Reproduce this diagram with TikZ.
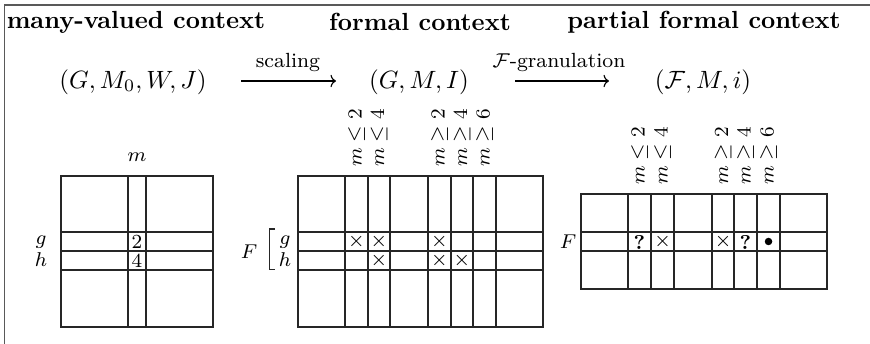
\documentclass[tikz,border=0pt]{standalone}
\usetikzlibrary{arrows.meta}
\begin{document}
\begin{tikzpicture}[x=0.4pt,y=-0.4pt,
  tbl/.style={line width=0.45pt, draw=black!85},
  frame/.style={line width=0.5pt, draw=black!65},
  txt/.style={inner sep=0pt, outer sep=0pt},
  head/.style={txt, font=\fontsize{9.9}{12}\bfseries\selectfont},
  formula/.style={txt, font=\fontsize{10.3}{12}\selectfont},
  arrlabel/.style={txt, font=\fontsize{8.2}{10}\selectfont},
  mapto/.style={line width=0.45pt, -{Computer Modern Rightarrow[length=2.2pt,width=5pt]}},
  collab/.style={txt, rotate=90, anchor=west, font=\fontsize{8.4}{10}\selectfont},
  cell/.style={txt, font=\fontsize{8}{10}\selectfont},
  rowlab/.style={txt, font=\fontsize{8.2}{10}\selectfont}
]
\useasboundingbox (0,0) rectangle (870,344);
\draw[frame] (870,5) -- (4.5,5) -- (4.5,344);

% headings
\node[head] (h1) at (136,22) {many-valued context};
\node[head] (h2) at (420,22) {formal context};
\node[head] (h3) at (704,22) {partial formal context};

% formulas and arrows
\node[formula] (f1) at (133,82) {$(G,M_0,W,J)$};
\node[formula] (f2) at (419,82) {$(G,M,I)$};
\node[formula] (f3) at (703,82) {$(\mathcal{F},M,i)$};
\coordinate (a1s) at (241,81);
\coordinate (a1e) at (336,81);
\coordinate (a2s) at (515,81);
\coordinate (a2e) at (609,81);
\draw[mapto] (a1s) -- (a1e);
\draw[mapto] (a2s) -- (a2e);
\node[arrlabel] (l1) at (288,62) {scaling};
\node[arrlabel] (l2) at (559,62) {$\mathcal{F}$-granulation};

% left table
\draw[tbl] (61,176) rectangle (213,327);
\foreach \x in {128,146} \draw[tbl] (\x,176) -- (\x,327);
\foreach \y in {232,251,270} \draw[tbl] (61,\y) -- (213,\y);
\node[rowlab] (lm) at (137,157) {$m$};
\node[rowlab] (lg) at (41,242) {$g$};
\node[rowlab] (lh) at (41,260) {$h$};
\node[cell] (c2) at (137,242) {$2$};
\node[cell] (c4) at (137,261) {$4$};

% middle table
\draw[tbl] (298,176) rectangle (543,327);
\foreach \x in {345,368,390,428,451,473,496} \draw[tbl] (\x,176) -- (\x,327);
\foreach \y in {232,251,270} \draw[tbl] (298,\y) -- (543,\y);
\node[collab] (m1) at (356.5,167) {$m\le 2$};
\node[collab] (m2) at (379,167) {$m\le 4$};
\node[collab] (m3) at (439.5,167) {$m\ge 2$};
\node[collab] (m4) at (462,167) {$m\ge 4$};
\node[collab] (m5) at (484.5,167) {$m\ge 6$};
\node[rowlab] (mg) at (285,242) {$g$};
\node[rowlab] (mh) at (285,260) {$h$};
\node[rowlab] (mF) at (249,252) {$F$};
\coordinate (br1) at (275,229);
\coordinate (br2) at (269.5,229);
\coordinate (br3) at (269.5,269.5);
\coordinate (br4) at (275,269.5);
\draw[tbl] (br1) -- (br2) -- (br3) -- (br4);
\node[cell] (x1) at (356.5,242) {$\times$};
\node[cell] (x2) at (379,242) {$\times$};
\node[cell] (x3) at (439.5,242) {$\times$};
\node[cell] (x4) at (379,261) {$\times$};
\node[cell] (x5) at (439.5,261) {$\times$};
\node[cell] (x6) at (462,261) {$\times$};

% right table
\draw[tbl] (581,194) rectangle (827,289);
\foreach \x in {628,651,674,712,734,757,780} \draw[tbl] (\x,194) -- (\x,289);
\foreach \y in {232,251} \draw[tbl] (581,\y) -- (827,\y);
\node[collab] (r1) at (639.5,185) {$m\le 2$};
\node[collab] (r2) at (662.5,185) {$m\le 4$};
\node[collab] (r3) at (723,185) {$m\ge 2$};
\node[collab] (r4) at (745.5,185) {$m\ge 4$};
\node[collab] (r5) at (768.5,185) {$m\ge 6$};
\node[rowlab] (rF) at (568,242) {$F$};
\node[cell] (q1) at (639.5,242) {\textbf{?}};
\node[cell] (y1) at (662.5,242) {$\times$};
\node[cell] (y2) at (723,242) {$\times$};
\node[cell] (q2) at (745.5,242) {\textbf{?}};
\fill (768.5,241.5) circle[radius=1.5pt];
\end{tikzpicture}
\end{document}
